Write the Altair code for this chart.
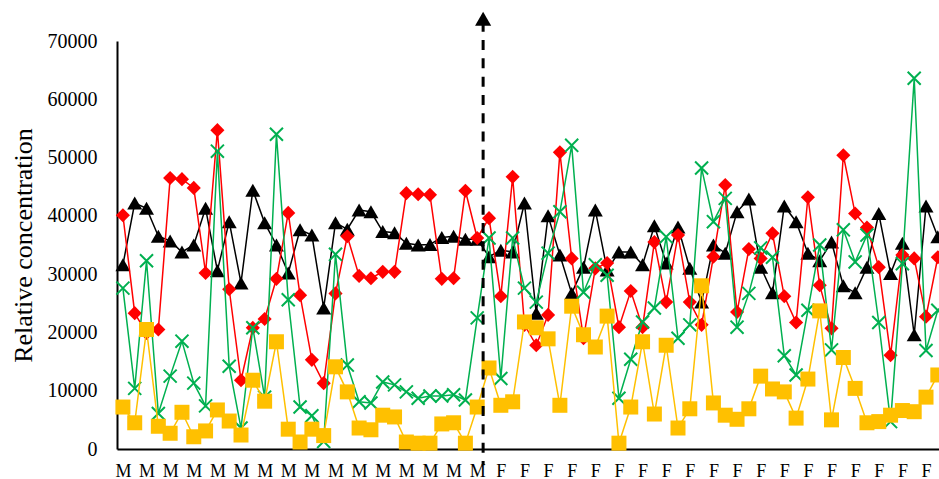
import altair as alt
import pandas as pd

# ---- data (index 0..30 = M, 31..69 = F) ----
n_male = 31
black = [31600, 42200, 41300, 36500, 35700, 33800, 35000, 41300, 30600, 39000,
         28500, 44400, 38800, 35000, 30200, 37600, 36700, 24200, 38800, 37700,
         41000, 40700, 37300, 37100, 35300, 35000, 35100, 36300, 36500, 36000,
         36000, 33000, 34100, 33800, 42200, 23300, 40000, 33300, 26700, 31200,
         41000, 30700, 33800, 33800, 31600, 38300, 31900, 38100, 31000, 25200,
         35000, 33600, 40700, 42900, 31200, 26800, 41700, 39000, 33600, 32300,
         35500, 28000, 26800, 31200, 40400, 30100, 35300, 19600, 41700, 36400]
red = [40100, 23300, 19900, 20500, 46500, 46300, 44800, 30200, 54700, 27400,
       11800, 20800, 22300, 29200, 40500, 26400, 15300, 11300, 26700, 36500,
       29700, 29300, 30400, 30400, 43900, 43700, 43600, 29200, 29300, 44300,
       36200, 39600, 26200, 46700, 21300, 17800, 23000, 50900, 32700, 19000,
       31000, 31900, 20900, 27100, 20900, 35500, 25200, 36700, 25200, 21300,
       33000, 45300, 23500, 34300, 32700, 37000, 26200, 21700, 43200, 28100,
       20700, 50400, 40400, 38000, 31200, 16100, 33300, 32700, 22700, 32900]
green = [27600, 10400, 32300, 6100, 12500, 18500, 11300, 7400, 51100, 14200,
         3600, 20800, 8900, 54000, 25600, 7200, 5700, 1300, 33400, 14400,
         8100, 7900, 11500, 11000, 9800, 8700, 9100, 9100, 9300, 8400,
         22500, 36200, 12100, 36200, 27600, 25200, 33600, 40700, 52100, 26900,
         31600, 29800, 8700, 15400, 21800, 24200, 36400, 19000, 21300, 48200,
         39000, 43000, 20900, 26700, 34500, 32900, 16000, 12700, 23800, 35000,
         17000, 37600, 32100, 36700, 21700, 4700, 31800, 63600, 16900, 23800]
yellow = [7200, 4500, 20500, 3900, 2700, 6300, 2100, 3100, 6700, 4800,
          2400, 11800, 8200, 18400, 3400, 1200, 3400, 2300, 14100, 9800,
          3600, 3300, 5800, 5500, 1200, 1000, 1000, 4300, 4500, 1000,
          7200, 13900, 7500, 8100, 21800, 20800, 18900, 7500, 24500, 19600,
          17500, 22800, 1000, 7200, 18400, 6000, 17800, 3600, 6900, 28000,
          7900, 5800, 5100, 6900, 12500, 10300, 9800, 5300, 12000, 23700,
          5000, 15700, 10400, 4500, 4700, 5800, 6600, 6400, 8900, 12700]
y_ticks = [0, 10000, 20000, 30000, 40000, 50000, 60000, 70000]

FONT = "Liberation Serif"
W, H = 822, 408

x_scale = alt.Scale(domain=[-0.5, 69.1], nice=False, zero=False)
y_scale = alt.Scale(domain=[0, 70000], nice=False)

x_axis = alt.Axis(values=list(range(0, 70, 2)),
                  labelExpr=f"datum.value < {n_male} ? 'M' : 'F'",
                  title=None, ticks=False, tickSize=0, grid=False,
                  labelFont=FONT, labelFontSize=18, labelColor="black",
                  labelBaseline="alphabetic", labelPadding=27,
                  labelFlush=False, labelOverlap=False,
                  domainColor="black", domainWidth=2)
y_axis = alt.Axis(values=y_ticks, format="d", ticks=False, tickSize=0, grid=False,
                  labelFont=FONT, labelFontSize=20, labelColor="black",
                  labelPadding=20, domainColor="black", domainWidth=2,
                  title="Relative concentration", titleFont=FONT,
                  titleFontSize=26, titleFontWeight="normal", titleColor="black",
                  titleX=-94, titleY=H / 2, titleAngle=270, titleBaseline="middle")


def X(field):
    return alt.X(field, type="quantitative", scale=x_scale, axis=x_axis)


def Y(field):
    return alt.Y(field, type="quantitative", scale=y_scale, axis=y_axis)


X_MARK = "M-1,-1L1,1M-1,1L1,-1"
series = [
    ("black", black, "#000000", "triangle-up", True, 225),
    ("red", red, "#FF0000", "diamond", True, 200),
    ("green", green, "#00B050", X_MARK, False, 170),
    ("yellow", yellow, "#FFC000", "square", True, 225),
]

layers = []
for name, vals, col, shape, filled, size in series:
    df = pd.DataFrame({"i": list(range(len(vals))), "v": vals})
    base = alt.Chart(df)
    line = base.mark_line(color=col, strokeWidth=1.5).encode(x=X("i"), y=Y("v"))
    if filled:
        pt = base.mark_point(shape=shape, filled=True, fill=col, color=col,
                             size=size, opacity=1, strokeWidth=0)
    else:
        pt = base.mark_point(shape=shape, filled=False, color=col, size=size,
                             opacity=1, strokeWidth=2)
    layers += [line, pt.encode(x=X("i"), y=Y("v"))]

# dashed divider with arrow between M and F
div_df = pd.DataFrame({"x": [n_male - 0.5], "y0": [-2800], "y1": [73300], "ya": [73800]})
rule = alt.Chart(div_df).mark_rule(color="black", strokeWidth=3, strokeDash=[10, 8.3]).encode(
    x=X("x"), y=Y("y1"), y2="y0:Q")
arrow = alt.Chart(div_df).mark_point(shape="triangle-up", filled=True, color="black",
                                     size=260, opacity=1, strokeWidth=0).encode(
    x=X("x"), y=Y("ya"))

chart = alt.layer(*layers, rule, arrow).properties(
    width=W, height=H,
    background="white",
    autosize=alt.AutoSizeParams(type="none"),
    padding={"left": 117, "top": 41, "right": 0, "bottom": 30},
).configure_view(strokeWidth=0, stroke="transparent")

chart.save("out.html", embed_options={"renderer": "svg", "actions": False})
